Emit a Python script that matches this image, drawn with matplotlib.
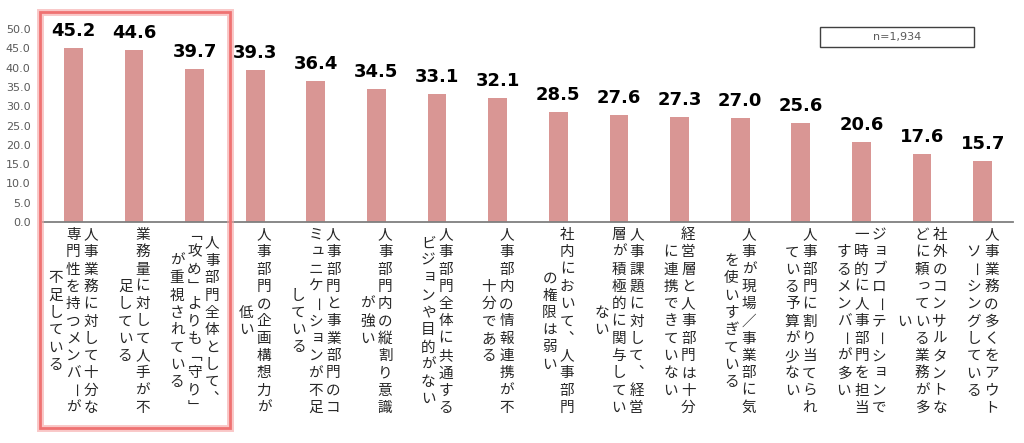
import matplotlib.pyplot as plt
from matplotlib.patches import Rectangle

# data
values = [45.2, 44.6, 39.7, 39.3, 36.4, 34.5, 33.1, 32.1,
          28.5, 27.6, 27.3, 27.0, 25.6, 20.6, 17.6, 15.7]

# each label is a list of vertical columns, first column is the rightmost
labels = [
    ["人事業務に対して十分な", "専門性を持つメンバーが", "不足している"],
    ["業務量に対して人手が不", "足している"],
    ["人事部門全体として、", "「攻め」よりも「守り」", "が重視されている"],
    ["人事部門の企画構想力が", "低い"],
    ["人事部門と事業部門のコ", "ミュニケーションが不足", "している"],
    ["人事部門内の縦割り意識", "が強い"],
    ["人事部門全体に共通する", "ビジョンや目的がない"],
    ["人事部内の情報連携が不", "十分である"],
    ["社内において、人事部門", "の権限は弱い"],
    ["人事課題に対して、経営", "層が積極的に関与してい", "ない"],
    ["経営層と人事部門は十分", "に連携できていない"],
    ["人事が現場／事業部に気", "を使いすぎている"],
    ["人事部門に割り当てられ", "ている予算が少ない"],
    ["ジョブローテーションで", "一時的に人事部門を担当", "するメンバーが多い"],
    ["社外のコンサルタントな", "どに頼っている業務が多", "い"],
    ["人事業務の多くをアウト", "ソーシングしている"],
]

sample_note = "n=1,934"
yticks = [0, 5, 10, 15, 20, 25, 30, 35, 40, 45, 50]

bar_color = "#d99694"
jp_font = ["Noto Sans CJK JP", "DejaVu Sans"]

# vertical writing substitutes
vert_map = {"、": "︑", "「": "﹁", "」": "﹂"}
rotate_chars = "ー"
small_kana = "ぁぃぅぇぉっゃゅょァィゥェォッャュョ"

fig = plt.figure(figsize=(10.24, 4.43), dpi=100)
ax = fig.add_axes([43 / 1024, 1 - 222 / 443, 970 / 1024, 193 / 443])

x = list(range(len(values)))
ax.bar(x, values, width=0.31, color=bar_color, zorder=2)

ax.set_xlim(-0.5, len(values) - 0.5)
ax.set_ylim(0, 50)
ax.set_yticks(yticks)
ax.set_yticklabels([f"{t:.1f}" for t in yticks], color="#595959", fontsize=8)
ax.set_xticks([])
ax.tick_params(axis="y", length=0, pad=9)
for s in ["top", "right", "left"]:
    ax.spines[s].set_visible(False)
ax.spines["bottom"].set_color("#7f7f7f")
ax.spines["bottom"].set_linewidth(1.3)

# value labels
for xi, v in zip(x, values):
    ax.annotate(f"{v:.1f}", xy=(xi, v), xytext=(0, 8), textcoords="offset pixels",
                ha="center", va="bottom", fontsize=13, fontweight="bold",
                color="black", annotation_clip=False)

# vertical japanese labels
col_gap = 17.5
row_gap = 17.3
block_center = -99.5
for xi, cols in zip(x, labels):
    n = len(cols)
    for k, col in enumerate(cols):
        dx = ((n - 1) / 2 - k) * col_gap
        m = len(col)
        for j, ch in enumerate(col):
            dy = block_center + ((m - 1) / 2 - j) * row_gap
            rot = 0
            if ch in rotate_chars:
                rot = -90
            ox, oy = 0, 0
            if ch in small_kana:
                ox, oy = 2, 2
            ch = vert_map.get(ch, ch)
            ax.annotate(ch, xy=(xi, 0), xytext=(dx + ox, dy + oy),
                        textcoords="offset pixels", ha="center", va="center",
                        fontsize=10.5, family=jp_font, color="#262626",
                        rotation=rot, annotation_clip=False)

# highlight frame around the first three items
W, H = 1024, 443
fig.patches.append(Rectangle((40 / W, 1 - 428 / H), 190 / W, 416 / H,
                             transform=fig.transFigure, fill=False,
                             edgecolor="#f5a3a3", linewidth=5, alpha=0.6))
fig.patches.append(Rectangle((40 / W, 1 - 428 / H), 190 / W, 416 / H,
                             transform=fig.transFigure, fill=False,
                             edgecolor="#ef7272", linewidth=2))

# sample size box
fig.patches.append(Rectangle((820 / W, 1 - 47 / H), 154 / W, 20 / H,
                             transform=fig.transFigure, fill=False,
                             edgecolor="#404040", linewidth=1))
fig.text(897 / W, 1 - 37 / H, sample_note, ha="center", va="center",
         fontsize=8, color="#595959")

fig.savefig("out.png", dpi=100)
